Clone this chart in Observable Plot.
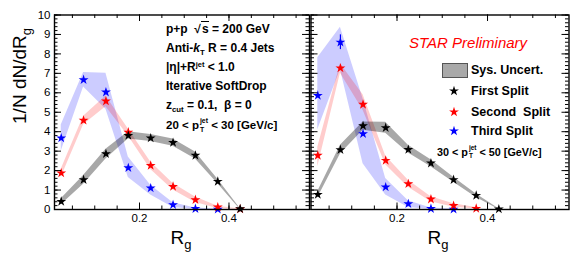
<!DOCTYPE html>
<html>
<head>
<meta charset="utf-8">
<script src="https://cdn.jsdelivr.net/npm/d3@7"></script>
<script src="https://cdn.jsdelivr.net/npm/@observablehq/plot@0.6"></script>
<style>
  html, body { margin: 0; padding: 0; background: #fff; }
  #wrap { position: relative; width: 582px; height: 254px; overflow: hidden; font-family: "Liberation Sans", Arial, Helvetica, sans-serif; color: #000; }
  #wrap svg.panel { position: absolute; top: 0; }
  .t { position: absolute; white-space: nowrap; line-height: 14px; }
  .b { font-weight: bold; }
  .st { display: inline-flex; flex-direction: column; vertical-align: 0.9em; font-size: 0.6em; line-height: 1.25; margin-left: 1px; }
  .sub { font-size: 0.65em; position: relative; top: 0.35em; }
  .sup { font-size: 0.62em; position: relative; top: -0.6em; }
  .rad { border-top: 1.2px solid #000; padding-left: 1px; }
</style>
</head>
<body>
<div id="wrap"></div>
<script>
// ---------------- data ----------------
const rg = [0.025, 0.075, 0.125, 0.175, 0.225, 0.275, 0.325, 0.375, 0.425];

// 20 < pT < 30 GeV/c
const first20    = [0.41, 1.53, 2.86, 3.80, 3.67, 3.44, 2.78, 1.44, 0.03];
const first20Lo  = [0.25, 1.30, 2.60, 3.62, 3.50, 3.25, 2.60, 1.32, 0.00];
const first20Hi  = [0.55, 1.75, 3.10, 4.00, 3.85, 3.62, 2.95, 1.55, 0.05];
const second20   = [1.87, 4.58, 5.57, 3.97, 2.26, 1.18, 0.50, 0.12, 0.02];
const second20Lo = [1.66, 4.36, 5.28, 3.78, 2.06, 1.00, 0.36, 0.05, 0.00];
const second20Hi = [2.07, 4.80, 5.84, 4.14, 2.44, 1.34, 0.64, 0.17, 0.03];
const third20    = [3.67, 6.67, 6.03, 2.14, 1.10, 0.24, 0.04, 0.01];
const third20Lo  = [3.00, 6.30, 5.15, 1.65, 0.75, 0.10, 0.00, 0.00];
const third20Hi  = [4.35, 7.05, 7.00, 2.70, 1.25, 0.35, 0.08, 0.02];
const third20Err = [0.05, 0.08, 0.08, 0.04, 0.03, 0.01, 0.01, 0.01];

// 30 < pT < 50 GeV/c
const first30    = [0.77, 3.07, 4.30, 4.20, 3.08, 2.38, 1.53, 0.72, 0.02];
const first30Lo  = [0.60, 2.85, 4.08, 3.92, 2.90, 2.20, 1.40, 0.62, 0.00];
const first30Hi  = [0.92, 3.30, 4.50, 4.48, 3.30, 2.56, 1.66, 0.80, 0.04];
const second30   = [2.78, 7.27, 5.40, 2.52, 1.32, 0.53, 0.20, 0.05];
const second30Lo = [2.20, 7.00, 5.10, 2.30, 1.15, 0.40, 0.12, 0.02];
const second30Hi = [3.20, 7.50, 5.90, 2.75, 1.50, 0.65, 0.30, 0.10];
const third30    = [5.86, 8.60, 3.89, 1.15, 0.29, 0.04, 0.01];
const third30Lo  = [4.10, 7.20, 2.35, 0.75, 0.10, 0.00, 0.00];
const third30Hi  = [7.80, 9.37, 5.70, 1.60, 0.45, 0.08, 0.02];
const third30Err = [0.10, 0.38, 0.08, 0.05, 0.03, 0.01, 0.01];

const xDomain = [0.01, 0.58];
const yDomain = [0, 10];
const xMajor = [0.2, 0.4];
const xMinor = d3.range(0.05, 0.576, 0.05);
const yMajor = d3.range(0, 11, 1);
const yMinor = d3.range(0, 10.01, 0.2);
const xLabels = ["0.2", "0.4"];
const yLabels = yMajor.map(String);

const seriesNames = ["First Split", "Second  Split", "Third Split"];
const colors = { "First Split": "#000000", "Second  Split": "#ff0000", "Third Split": "#0000ff" };
const bandOpacity = { "First Split": 0.34, "Second  Split": 0.2, "Third Split": 0.2 };

function rows(name, vals, lo, hi, err) {
  return vals.map((v, i) => ({ series: name, x: rg[i], y: v, lo: lo[i], hi: hi[i], err: err ? err[i] : 0 }));
}

const panel20 = [
  ...rows("Third Split", third20, third20Lo, third20Hi, third20Err),
  ...rows("Second  Split", second20, second20Lo, second20Hi),
  ...rows("First Split", first20, first20Lo, first20Hi)
];
const panel30 = [
  ...rows("Third Split", third30, third30Lo, third30Hi, third30Err),
  ...rows("Second  Split", second30, second30Lo, second30Hi),
  ...rows("First Split", first30, first30Lo, first30Hi)
];

// ---------------- drawing ----------------
const H = 254, MT = 14.5, MB = 45;

function panel(data, { width, marginLeft, marginRight, showY }) {
  const plotW = width - marginLeft - marginRight;
  const pxX = (xDomain[1] - xDomain[0]) / plotW;
  const pxY = (yDomain[1] - yDomain[0]) / (H - MT - MB);
  const marks = [];
  for (const s of ["Third Split", "Second  Split", "First Split"]) {
    marks.push(Plot.areaY(data.filter(d => d.series === s), {
      x: "x", y1: "lo", y2: "hi", fill: colors[s], fillOpacity: bandOpacity[s]
    }));
  }
  marks.push(Plot.ruleX(data.filter(d => d.err > 0.2), {
    x: "x", y1: d => d.y - d.err, y2: d => d.y + d.err, stroke: d => colors[d.series], strokeWidth: 1.2
  }));
  marks.push(Plot.dot(data, {
    x: "x", y: "y", symbol: "star", r: 3.1, fill: d => colors[d.series], stroke: "none"
  }));
  const tk = (n) => n * pxY, tkx = (n) => n * pxX;
  marks.push(Plot.ruleX(xMinor, { y1: 0, y2: tk(3.5), stroke: "#000", strokeWidth: 1 }));
  marks.push(Plot.ruleX(xMajor, { y1: 0, y2: tk(6.5), stroke: "#000", strokeWidth: 1 }));
  marks.push(Plot.ruleX(xMinor, { y1: 10, y2: 10 - tk(3.5), stroke: "#000", strokeWidth: 1 }));
  marks.push(Plot.ruleX(xMajor, { y1: 10, y2: 10 - tk(6.5), stroke: "#000", strokeWidth: 1 }));
  marks.push(Plot.ruleY(yMinor, { x1: xDomain[0], x2: xDomain[0] + tkx(3.5), stroke: "#000", strokeWidth: 1 }));
  marks.push(Plot.ruleY(yMajor, { x1: xDomain[0], x2: xDomain[0] + tkx(7), stroke: "#000", strokeWidth: 1 }));
  marks.push(Plot.ruleY(yMinor, { x1: xDomain[1], x2: xDomain[1] - tkx(3.5), stroke: "#000", strokeWidth: 1 }));
  marks.push(Plot.ruleY(yMajor, { x1: xDomain[1], x2: xDomain[1] - tkx(7), stroke: "#000", strokeWidth: 1 }));
  marks.push(Plot.frame({ stroke: "#000", strokeWidth: 1.4 }));
  marks.push(Plot.axisX(xMajor, { tickSize: 0, tickPadding: 4, fontSize: 11.5, tickFormat: (d, i) => xLabels[i], label: null }));
  if (showY) marks.push(Plot.axisY(yMajor, { tickSize: 0, tickPadding: 4, fontSize: 11.5, tickFormat: (d, i) => yLabels[i], label: null }));
  const svg = Plot.plot({
    width, height: H,
    marginLeft, marginRight, marginTop: MT, marginBottom: MB,
    style: { fontFamily: '"Liberation Sans", Arial, Helvetica, sans-serif', fontSize: "11px", color: "#000", background: "transparent", overflow: "visible" },
    x: { domain: xDomain, axis: null },
    y: { domain: yDomain, axis: null },
    marks
  });
  svg.classList.add("panel");
  return svg;
}

const wrap = document.getElementById("wrap");
const left = panel(panel20, { width: 310, marginLeft: 54, marginRight: 1, showY: true });
left.style.left = "0px";
const right = panel(panel30, { width: 273, marginLeft: 1.5, marginRight: 13.5, showY: false });
right.style.left = "309px";
wrap.appendChild(left);
wrap.appendChild(right);

// ---------------- text overlays ----------------
function addText(html, x, y, cls, style) {
  const d = document.createElement("div");
  d.className = "t " + (cls || "");
  d.innerHTML = html;
  d.style.left = x + "px";
  d.style.top = y + "px";
  if (style) Object.assign(d.style, style);
  wrap.appendChild(d);
  return d;
}
const pjet = (a, b) => `${a} &lt; p<span class="st"><span>jet</span><span>T</span></span> &lt; ${b} [GeV/c]`;

// axis titles as SVG text
const ov = d3.select(wrap).append("svg")
  .attr("width", 582).attr("height", 254)
  .style("position", "absolute").style("left", "0px").style("top", "0px")
  .style("font-family", '"Liberation Sans", Arial, Helvetica, sans-serif');
const yt = ov.append("text")
  .attr("transform", "translate(26,76) rotate(-90)")
  .attr("text-anchor", "middle")
  .attr("font-size", 19);
yt.append("tspan").text("1/N dN/dR");
yt.append("tspan").attr("dy", 5).attr("font-size", 13).text("g");
for (const cx of [181, 438]) {
  const xt = ov.append("text").attr("x", cx).attr("y", 244).attr("text-anchor", "middle").attr("font-size", 19);
  xt.append("tspan").text("R");
  xt.append("tspan").attr("dy", 5).attr("font-size", 13).text("g");
}

// left panel annotations
const annX = 166, annStyle = { fontSize: "12px" };
addText(`p+p &nbsp;√<span class="rad">s</span> = 200 GeV`, annX, 22, "b", annStyle);
addText(`Anti-<i>k</i><span class="sub">T</span> R = 0.4 Jets`, annX, 41, "b", annStyle);
addText(`|η|+R<span class="sup">jet</span> &lt; 1.0`, annX, 60, "b", annStyle);
addText(`Iterative SoftDrop`, annX, 79, "b", annStyle);
addText(`z<span class="sub">cut</span> = 0.1, &nbsp;β = 0`, annX, 98, "b", annStyle);
addText(pjet(20, 30), annX, 117, "b", { fontSize: "11.5px" });

// right panel annotations
addText(`STAR Preliminary`, 409, 35, "", { fontSize: "15px", fontStyle: "italic", color: "#ff0000", lineHeight: "16px" });

// legend
const box = document.createElement("div");
Object.assign(box.style, { position: "absolute", left: "442px", top: "63px", width: "24px", height: "13px",
  background: "#a9a9a9", border: "1px solid #555" });
wrap.appendChild(box);
addText(`Sys. Uncert.`, 471, 63, "b", { fontSize: "12.5px" });
const legY = [90.7, 111.7, 131];
seriesNames.forEach((name, i) => {
  const ns = "http://www.w3.org/2000/svg";
  const s = document.createElementNS(ns, "svg");
  s.setAttribute("width", 14); s.setAttribute("height", 14);
  Object.assign(s.style, { position: "absolute", left: (454 - 7) + "px", top: (legY[i] - 7) + "px" });
  const p = document.createElementNS(ns, "path");
  p.setAttribute("d", d3.symbol(d3.symbolStar, 3.1 * 3.1 * Math.PI)());
  p.setAttribute("transform", "translate(7,7)");
  p.setAttribute("fill", colors[name]);
  s.appendChild(p);
  wrap.appendChild(s);
  addText(name.replace("  ", "&nbsp; "), 471, legY[i] - 7, "b", { fontSize: "12.5px" });
});
addText(pjet(30, 50), 437, 144, "b", { fontSize: "10.8px" });
</script>
</body>
</html>
